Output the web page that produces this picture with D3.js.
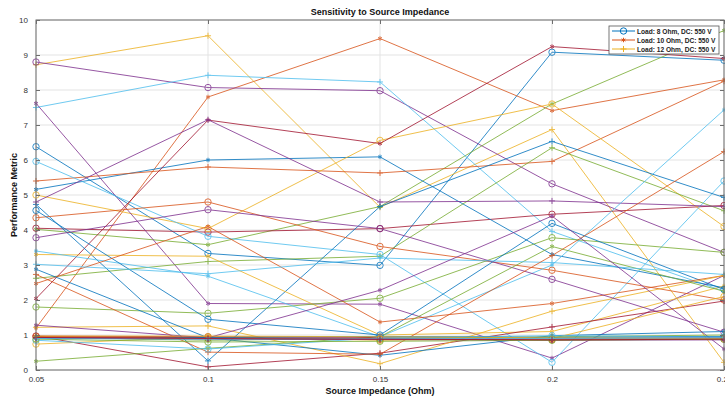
<!DOCTYPE html>
<html>
<head>
<meta charset="utf-8">
<script src="https://cdn.jsdelivr.net/npm/d3@7"></script>
<style>
  body { margin: 0; background: #fff; }
  svg { display: block; font-family: "Liberation Sans", Arial, sans-serif; }
</style>
</head>
<body>
<svg id="chart"></svg>
<script>
// source impedance values (x categories)
const impedance = [0.05, 0.1, 0.15, 0.2, 0.25];
const xTickLabels = ["0.05", "0.1", "0.15", "0.2", "0.25"];
const yTicks = [0, 1, 2, 3, 4, 5, 6, 7, 8, 9, 10];
const legendLabels = ["Load: 8 Ohm, DC: 550 V", "Load: 10 Ohm, DC: 550 V", "Load: 12 Ohm, DC: 550 V"];

// performance metric per run, in plotting order (colour cycles every 7 runs)
const metricSeries = [
  [6.38, 3.33, 2.99, 9.08, 8.85],
  [1.2, 7.8, 9.47, 7.41, 8.29],
  [8.72, 9.55, 4.65, 6.87, 0.22],
  [8.8, 8.07, 7.98, 5.32, 3.36],
  [4.02, 3.58, 4.67, 7.6, 9.7],
  [7.5, 8.42, 8.23, 3.96, 2.25],
  [4.05, 3.94, 4.04, 4.45, 4.7],

  [5.16, 6.0, 6.09, 3.3, 2.35],
  [5.4, 5.8, 5.63, 5.96, 8.25],
  [5.0, 4.04, 6.56, 7.6, 4.1],
  [7.62, 1.9, 1.88, 0.34, 2.7],
  [2.62, 3.1, 3.25, 6.35, 4.55],
  [5.96, 3.82, 3.3, 0.22, 5.4],
  [2.04, 7.14, 6.47, 9.24, 8.9],

  [4.73, 0.26, 4.67, 6.53, 4.93],
  [4.35, 4.8, 3.53, 2.85, 2.0],
  [3.3, 3.25, 1.0, 1.1, 2.4],
  [4.8, 7.15, 4.8, 4.83, 4.67],
  [1.8, 1.62, 2.05, 3.78, 3.36],
  [3.4, 2.68, 0.95, 3.0, 7.43],
  [0.98, 0.09, 0.48, 1.23, 1.97],

  [4.56, 1.45, 1.0, 4.19, 2.3],
  [2.47, 4.1, 1.37, 1.9, 2.7],
  [1.22, 1.26, 0.18, 1.68, 2.7],
  [3.78, 4.58, 4.04, 2.59, 1.08],
  [0.25, 0.62, 0.95, 3.53, 2.25],
  [3.02, 2.75, 3.2, 3.07, 2.73],
  [0.97, 0.95, 0.93, 0.9, 0.92],

  [2.88, 0.92, 0.42, 0.98, 1.1],
  [2.73, 0.51, 0.45, 3.27, 6.24],
  [0.74, 0.95, 0.85, 0.9, 2.1],
  [1.28, 0.92, 2.28, 4.4, 0.6],
  [0.93, 0.85, 0.9, 0.95, 1.0],
  [0.85, 0.6, 0.92, 0.98, 0.95],
  [0.95, 0.92, 0.9, 0.88, 0.9],

  [0.9, 0.93, 0.96, 0.93, 0.95],
  [0.96, 0.9, 0.88, 0.86, 0.88],
  [0.97, 0.97, 0.95, 0.92, 0.9],
  [0.92, 0.88, 0.87, 0.85, 0.86],
  [0.88, 0.8, 0.82, 0.85, 0.88],
  [0.9, 0.88, 0.9, 0.9, 0.92],
  [0.93, 0.9, 0.88, 0.86, 0.88]
];

const width = 725;
const height = 396;
const margin = { top: 20, right: 1, bottom: 26, left: 36 };

const colorOrder = ["#0072BD", "#D95319", "#EDB120", "#7E2F8E", "#77AC30", "#4DBEEE", "#A2142F"];
const markerTypes = ["circle", "star", "plus"];

const $svg = d3.select("#chart").attr("width", width).attr("height", height);

const x = d3.scaleLinear().domain([0.05, 0.25]).range([margin.left, width - margin.right]);
const y = d3.scaleLinear().domain([0, 10]).range([height - margin.bottom, margin.top]);

const axisColor = "#6e6e6e";
const textColor = "#333";

// grid
const $grid = $svg.append("g").attr("class", "grid");
$grid.selectAll("line.gy")
  .data(yTicks)
  .enter()
  .append("line")
  .attr("x1", x(0.05)).attr("x2", x(0.25))
  .attr("y1", (d) => y(d)).attr("y2", (d) => y(d))
  .attr("stroke", "#e3e3e3").attr("stroke-width", 1);
$grid.selectAll("line.gx")
  .data(impedance)
  .enter()
  .append("line")
  .attr("x1", (d) => x(d)).attr("x2", (d) => x(d))
  .attr("y1", y(0)).attr("y2", y(10))
  .attr("stroke", "#e3e3e3").attr("stroke-width", 1);

// lines + markers
const line = d3.line()
  .x((d, i) => x(impedance[i]))
  .y((d) => y(d));

const color = (i) => colorOrder[i % colorOrder.length];
const marker = (i) => markerTypes[i % markerTypes.length];

const $series = $svg.append("g").attr("class", "series")
  .selectAll("g")
  .data(metricSeries)
  .enter()
  .append("g")
  .attr("opacity", 0.8);

$series.append("path")
  .attr("d", (d) => line(d))
  .attr("fill", "none")
  .attr("stroke", (d, i) => color(i))
  .attr("stroke-width", 1);

const drawMarker = (sel, type, stroke) => {
  if (type === "circle") {
    sel.append("circle").attr("r", 3.2).attr("fill", "none").attr("stroke", stroke).attr("stroke-width", 1);
  } else {
    const sym = type === "star" ? d3.symbolAsterisk : d3.symbolPlus;
    sel.append("path")
      .attr("d", d3.symbol(sym, 14)())
      .attr("fill", "none")
      .attr("stroke", stroke)
      .attr("stroke-width", 1);
  }
};

$series.each(function (d, i) {
  const $g = d3.select(this);
  d.forEach((v, j) => {
    const $m = $g.append("g").attr("transform", `translate(${x(impedance[j])},${y(v)})`);
    drawMarker($m, marker(i), color(i));
  });
});

// axes box
$svg.append("rect")
  .attr("x", x(0.05)).attr("y", y(10))
  .attr("width", x(0.25) - x(0.05)).attr("height", y(0) - y(10))
  .attr("fill", "none").attr("stroke", axisColor).attr("stroke-width", 1);

const xAxis = d3.axisBottom(x).tickValues(impedance).tickSizeInner(-4).tickSizeOuter(0)
  .tickPadding(6).tickFormat((d, i) => xTickLabels[i]);
const $xa = $svg.append("g").attr("transform", `translate(0,${y(0)})`).call(xAxis);
const xTop = d3.axisTop(x).tickValues(impedance).tickSizeInner(-4).tickSizeOuter(0).tickFormat("");
const $xt = $svg.append("g").attr("transform", `translate(0,${y(10)})`).call(xTop);

const yAxis = d3.axisLeft(y).tickValues(yTicks).tickSizeInner(-4).tickSizeOuter(0).tickPadding(8);
const $ya = $svg.append("g").attr("transform", `translate(${x(0.05)},0)`).call(yAxis);
const yRight = d3.axisRight(y).tickValues(yTicks).tickSizeInner(-4).tickSizeOuter(0).tickFormat("");
const $yr = $svg.append("g").attr("transform", `translate(${x(0.25)},0)`).call(yRight);

[$xa, $xt, $ya, $yr].forEach(($a) => {
  $a.select(".domain").remove();
  $a.selectAll(".tick line").attr("stroke", axisColor);
  $a.selectAll("text").attr("fill", textColor).style("font-size", "8px");
});

// title and labels
$svg.append("text")
  .attr("x", (x(0.05) + x(0.25)) / 2)
  .attr("y", 15)
  .attr("text-anchor", "middle")
  .attr("fill", "#111")
  .style("font-size", "9px")
  .style("font-weight", "bold")
  .text("Sensitivity to Source Impedance");

$svg.append("text")
  .attr("x", (x(0.05) + x(0.25)) / 2)
  .attr("y", 394)
  .attr("text-anchor", "middle")
  .attr("fill", "#111")
  .style("font-size", "9px")
  .style("font-weight", "bold")
  .text("Source Impedance (Ohm)");

$svg.append("text")
  .attr("transform", `translate(17,${(y(0) + y(10)) / 2}) rotate(-90)`)
  .attr("text-anchor", "middle")
  .attr("fill", "#111")
  .style("font-size", "9px")
  .style("font-weight", "bold")
  .text("Performance Metric");

// legend (first three runs)
const $legend = $svg.append("g").attr("transform", "translate(609,26)");
$legend.append("rect")
  .attr("width", 110).attr("height", 28)
  .attr("fill", "#fff").attr("stroke", "#555").attr("stroke-width", 0.8);
legendLabels.forEach((label, i) => {
  const ly = 5 + i * 9;
  const $row = $legend.append("g").attr("transform", `translate(0,${ly})`);
  $row.append("line")
    .attr("x1", 3).attr("x2", 26).attr("y1", 0).attr("y2", 0)
    .attr("stroke", color(i)).attr("stroke-width", 1);
  const $m = $row.append("g").attr("transform", "translate(14.5,0)");
  drawMarker($m, marker(i), color(i));
  $row.append("text")
    .attr("x", 28).attr("y", 2.5)
    .attr("fill", "#222")
    .style("font-size", "6.6px")
    .style("font-weight", "bold")
    .text(label);
});
</script>
</body>
</html>
